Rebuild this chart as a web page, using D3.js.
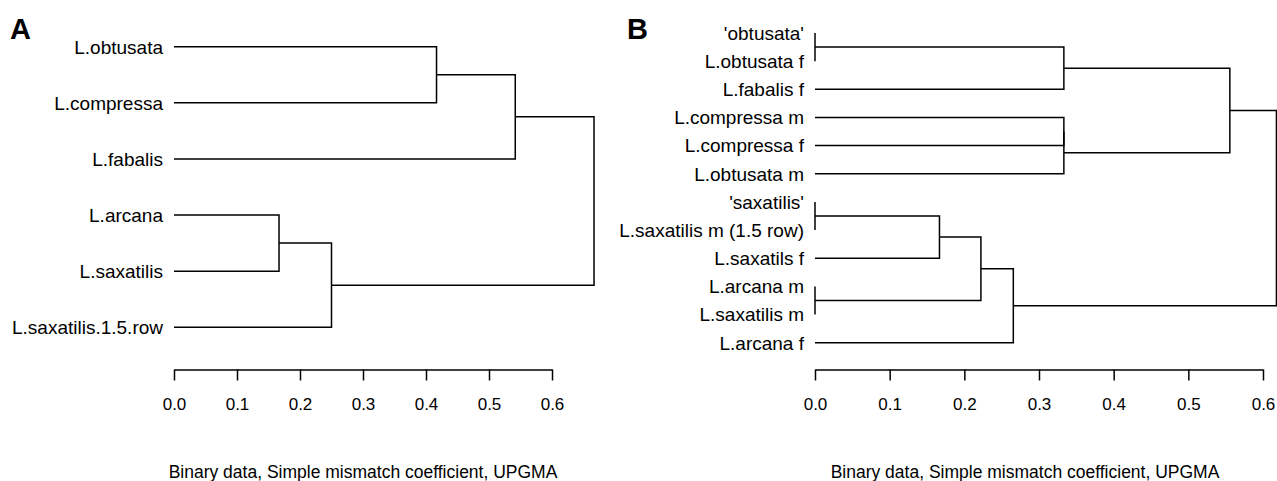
<!DOCTYPE html>
<html>
<head>
<meta charset="utf-8">
<script src="https://cdn.jsdelivr.net/npm/d3@7"></script>
<style>
  body { margin: 0; background: #fff; }
  svg { display: block; font-family: "Liberation Sans", Arial, sans-serif; }
</style>
</head>
<body>
<svg width="1277" height="481"></svg>
<script>
// Panel A leaves, top to bottom
var leavesA = ["L.obtusata", "L.compressa", "L.fabalis", "L.arcana", "L.saxatilis", "L.saxatilis.1.5.row"];
// hclust-style merges: negative = leaf (1-based), positive = earlier merge
var mergeA = [[-4, -5], [-6, 1], [-1, -2], [-3, 3], [2, 4]];
var heightA = [0.1667, 0.25, 0.4167, 0.5417, 0.6667];

// Panel B leaves, top to bottom
var leavesB = ["'obtusata'", "L.obtusata f", "L.fabalis f", "L.compressa m", "L.compressa f", "L.obtusata m",
               "'saxatilis'", "L.saxatilis m (1.5 row)", "L.saxatils f", "L.arcana m", "L.saxatilis m", "L.arcana f"];
var mergeB = [[-1, -2], [-7, -8], [-10, -11], [2, -9], [4, 3], [5, -12],
              [-4, -5], [7, -6], [1, -3], [9, 8], [10, 6]];
var heightB = [0, 0, 0, 0.1667, 0.2222, 0.2656, 0.3333, 0.3333, 0.3333, 0.5556, 0.618];

var tickValues = [0, 0.1, 0.2, 0.3, 0.4, 0.5, 0.6];
var caption = "Binary data, Simple mismatch coefficient, UPGMA";

var svg = d3.select("svg");

function drawDendro(panel, letter, leaves, merge, heights) {
    var g = svg.append("g");
    var x = d3.scaleLinear().domain([0, 0.6]).range(panel.xr);
    var y = d3.scaleLinear().domain([0, leaves.length - 1]).range(panel.yr);

    // node positions
    var nodes = [];
    function pos(c) {
        if (c < 0) return { y: y(-c - 1), h: 0 };
        return nodes[c - 1];
    }
    merge.forEach(function(m, i) {
        var a = pos(m[0]), b = pos(m[1]);
        nodes.push({ y: (a.y + b.y) / 2, h: heights[i], a: a, b: b });
    });

    g.selectAll("path.link")
        .data(nodes)
        .enter().append("path")
        .attr("class", "link")
        .attr("d", function(d) {
            return "M" + x(d.a.h) + "," + d.a.y + "H" + x(d.h) + "V" + d.b.y + "H" + x(d.b.h);
        })
        .attr("fill", "none")
        .attr("stroke", "#000")
        .attr("stroke-width", 1.5);

    g.selectAll("text.leaf")
        .data(leaves)
        .enter().append("text")
        .attr("class", "leaf")
        .attr("x", x(0) - 11)
        .attr("y", function(d, i) { return y(i); })
        .attr("dy", "0.36em")
        .attr("text-anchor", "end")
        .attr("font-size", panel.fs)
        .text(function(d) { return d; });

    // axis only spans 0 .. 0.6
    var axis = d3.axisBottom(x)
        .tickValues(tickValues)
        .tickFormat(d3.format(".1f"))
        .tickSize(11)
        .tickSizeOuter(0)
        .tickPadding(17);
    var ax = g.append("g")
        .attr("transform", "translate(0," + panel.axisY + ")")
        .call(axis);
    ax.selectAll("path, line").attr("stroke", "#000").attr("stroke-width", 1.5);
    ax.selectAll("text").attr("font-size", 17).attr("fill", "#000")
        .attr("font-family", "Liberation Sans, Arial, sans-serif");

    g.append("text")
        .attr("x", panel.capX)
        .attr("y", 478)
        .attr("text-anchor", "middle")
        .attr("font-size", 17.5)
        .text(caption);

    g.append("text")
        .attr("x", panel.letterX)
        .attr("y", 39)
        .attr("font-size", 29)
        .attr("font-weight", "bold")
        .text(letter);
}

drawDendro({ xr: [174, 552], yr: [46.7, 327.3], axisY: 369.5, capX: 363, letterX: 10, fs: 19 },
           "A", leavesA, mergeA, heightA);
drawDendro({ xr: [815, 1263], yr: [33, 342.7], axisY: 369.5, capX: 1025, letterX: 627, fs: 19 },
           "B", leavesB, mergeB, heightB);
</script>
</body>
</html>
